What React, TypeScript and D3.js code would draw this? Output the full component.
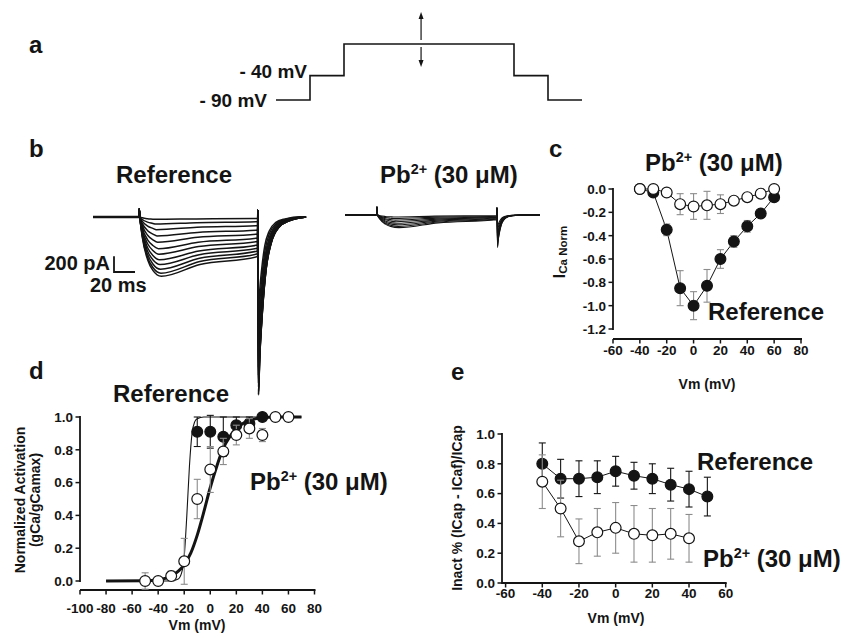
import React from 'react';
import * as d3 from 'd3';

const FONT = '"Liberation Sans", Arial, Helvetica, sans-serif';
const INK = '#141414';
const GREY = '#8c8c8c';

// a: voltage protocol
const protoTimes = [0, 30, 60, 210, 240, 270]; // ms
const protoLevels = [-90, -40, 25, -40, -90]; // mV
const protoArrowAt = 128;

// b: current traces, [start, step, tail, end] in ms, amplitudes in pA
const refTimes = [0, 44, 157, 198];
const refPeak = [30, 90, 160, 240, 320, 400, 470, 540, 600, 660, 710, 750];
const refLate = [20, 60, 110, 165, 215, 265, 310, 355, 395, 430, 465, 500];
const refTail = [1200, 1400, 1600, 1750, 1900, 2000, 2100, 2150, 2200, 2220, 2240, 2250];
const pbTimes = [0, 30.5, 145, 186];
const pbPeak = [25, 45, 65, 85, 105, 125, 145, 160];
const pbLate = [8, 15, 22, 30, 37, 45, 52, 60];
const pbTail = [150, 200, 250, 290, 330, 360, 390, 410];
const scaleBar = [200, 20]; // pA, ms

// c: normalised I-V
const ivVm = [-40, -30, -20, -10, 0, 10, 20, 30, 40, 50, 60];
const ivRef = [0, -0.03, -0.35, -0.85, -1.0, -0.83, -0.6, -0.45, -0.32, -0.21, -0.07];
const ivRefErr = [0, 0, 0.05, 0.15, 0.12, 0.14, 0.08, 0.05, 0.05, 0.02, 0.02];
const ivPb = [0, 0, -0.03, -0.13, -0.15, -0.14, -0.13, -0.1, -0.07, -0.04, 0];
const ivPbErr = [0, 0, 0, 0.09, 0.11, 0.12, 0.08, 0.02, 0.02, 0, 0];

// d: activation
const actRefVm = [-10, 0, 10, 20, 30, 40];
const actRef = [0.91, 0.91, 0.88, 0.95, 0.96, 1.0];
const actRefErr = [0.09, 0.1, 0.12, 0.05, 0.04, 0];
const actPbVm = [-50, -40, -30, -20, -10, 0, 10, 20, 30, 40, 50, 60];
const actPb = [0, 0, 0.03, 0.12, 0.5, 0.68, 0.79, 0.89, 0.93, 0.89, 1.0, 1.0];
const actPbErr = [0.05, 0.01, 0.03, 0.14, 0.12, 0.14, 0.08, 0.06, 0.06, 0.04, 0, 0];
const fitRefVm = [-80, -30, -25, -22, -20, -18, -16, -14, -12, -10, -5, 70];
const fitRef = [0, 0, 0.01, 0.05, 0.15, 0.4, 0.7, 0.9, 0.97, 0.99, 1, 1];
const fitPbVm = [-80, -50, -40, -30, -20, -15, -10, -5, 0, 5, 10, 15, 20, 30, 40, 50, 70];
const fitPb = [0, 0.002, 0.008, 0.03, 0.1, 0.17, 0.28, 0.42, 0.57, 0.7, 0.81, 0.88, 0.93, 0.98, 0.995, 1, 1];

// e: inactivation
const inRefVm = [-40, -30, -20, -10, 0, 10, 20, 30, 40, 50];
const inRef = [0.8, 0.7, 0.7, 0.71, 0.75, 0.72, 0.7, 0.66, 0.63, 0.58];
const inRefErr = [0.14, 0.13, 0.12, 0.11, 0.1, 0.09, 0.1, 0.11, 0.12, 0.13];
const inPbVm = [-40, -30, -20, -10, 0, 10, 20, 30, 40];
const inPb = [0.68, 0.5, 0.28, 0.34, 0.37, 0.33, 0.32, 0.33, 0.3];
const inPbErr = [0.18, 0.19, 0.15, 0.16, 0.17, 0.19, 0.18, 0.17, 0.16];

type Sc = d3.ScaleLinear<number, number>;

// shape templates: activation (ms after step, fraction of peak), tail relaxation (ms, fraction left)
const rise = [[3, 0.35], [8, 0.72], [13, 0.9]];
const relax = [[0, 1], [1, 0.8], [3, 0.55], [6, 0.3], [10, 0.15], [16, 0.06], [25, 0.02], [38, 0]];

function tracePts(times: number[], peak: number, late: number, tail: number, maxPeak: number, slow: number) {
  const [t0, on, off, t1] = times;
  const tp = on + 15 + 6 * (peak / maxPeak);
  const pts: [number, number][] = [[t0, 0], [on - 0.6, 0], [on, 100], [on + 0.6, 0]];
  rise.forEach(([dt, f]) => pts.push([on + dt, -peak * f]));
  pts.push([tp, -peak], [tp + 0.4 * (off - tp), -(peak - 0.6 * (peak - late))], [off - 0.4, -late], [off, 90]);
  relax.forEach(([dt, f]) => pts.push([off + 0.5 + dt * slow, -tail * f]));
  if (pts[pts.length - 1][0] < t1) pts.push([t1, 0]);
  return pts;
}

const AxisX = ({ x, y, from, ticks, labelY }: { x: Sc; y: number; from?: number; ticks: number[]; labelY: number }) => (
  <g>
    <line x1={from ?? x(ticks[0])} x2={x(ticks[ticks.length - 1]) + 1} y1={y} y2={y} stroke={INK} strokeWidth={1.8} />
    {ticks.map(t => <line key={t} x1={x(t)} x2={x(t)} y1={y} y2={y + 4.5} stroke={INK} strokeWidth={1.5} />)}
    {ticks.map(t => <text key={'l' + t} x={x(t)} y={labelY} textAnchor="middle" fontSize={13.5}>{String(t)}</text>)}
  </g>
);

const AxisY = ({ y, x, ticks, labelX }: { y: Sc; x: number; ticks: number[]; labelX: number }) => (
  <g>
    <line x1={x} x2={x} y1={y(ticks[0]) + 1} y2={y(ticks[ticks.length - 1]) - 1} stroke={INK} strokeWidth={1.8} />
    {ticks.map(t => <line key={t} x1={x - 4.5} x2={x} y1={y(t)} y2={y(t)} stroke={INK} strokeWidth={1.5} />)}
    {ticks.map(t => <text key={'l' + t} x={labelX} y={y(t)} dy="0.36em" textAnchor="end" fontSize={13.5}>{t.toFixed(1)}</text>)}
  </g>
);

const Series = ({ x, y, vm, v, err, filled, joined, errColor }: {
  x: Sc; y: Sc; vm: number[]; v: number[]; err: number[]; filled: boolean; joined: boolean; errColor: string;
}) => {
  const line = d3.line<number>().x((_, i) => x(vm[i])).y(d => y(d));
  return (
    <g>
      {joined && <path d={line(v) || ''} fill="none" stroke={INK} strokeWidth={1} />}
      {v.map((d, i) => err[i] > 0 && (
        <g key={'e' + i} stroke={errColor} strokeWidth={1.1}>
          <line x1={x(vm[i])} x2={x(vm[i])} y1={y(d - err[i])} y2={y(d + err[i])} />
          <line x1={x(vm[i]) - 3.5} x2={x(vm[i]) + 3.5} y1={y(d - err[i])} y2={y(d - err[i])} />
          <line x1={x(vm[i]) - 3.5} x2={x(vm[i]) + 3.5} y1={y(d + err[i])} y2={y(d + err[i])} />
        </g>
      ))}
      {v.map((d, i) => (
        <circle key={i} cx={x(vm[i])} cy={y(d)} r={5.4} fill={filled ? INK : '#fff'} stroke={INK} strokeWidth={1.2} />
      ))}
    </g>
  );
};

const PbLabel = ({ x, y, size = 24 }: { x: number; y: number; size?: number }) => (
  <text x={x} y={y} fontSize={size}>
    Pb<tspan fontSize={size * 0.6} dy={-size * 0.38}>2+</tspan><tspan dy={size * 0.38}> (30 μM)</tspan>
  </text>
);

const App = () => {
  // a
  const xa = d3.scaleLinear().domain([0, 270]).range([276, 582]);
  const ya = d3.scaleLinear().domain([-90, 25]).range([100, 44]);
  const protoPts: [number, number][] = protoLevels.map((l, i) => [protoTimes[i], l]);
  protoPts.push([protoTimes[protoTimes.length - 1], protoLevels[protoLevels.length - 1]]);
  const protoPath = d3.line<[number, number]>().x(d => xa(d[0])).y(d => ya(d[1])).curve(d3.curveStepAfter)(protoPts) || '';
  const ax = xa(protoArrowAt);

  // b
  const xRef = d3.scaleLinear().domain([0, 198]).range([93, 301]);
  const yRef = d3.scaleLinear().domain([-2250, 0]).range([395, 217]);
  const xPb = d3.scaleLinear().domain([0, 186]).range([345, 540]);
  const yPb = d3.scaleLinear().domain([-2250, 0]).range([393, 215]);
  const refLine = d3.line<[number, number]>().x(d => xRef(d[0])).y(d => yRef(d[1])).curve(d3.curveMonotoneX);
  const pbLine = d3.line<[number, number]>().x(d => xPb(d[0])).y(d => yPb(d[1])).curve(d3.curveMonotoneX);
  const refMax = d3.max(refPeak) || 1;
  const pbMax = d3.max(pbPeak) || 1;
  const refTailMax = d3.max(refTail) || 1;
  const sbX = 114, sbY = 272;
  const sbH = yRef(-scaleBar[0]) - yRef(0);
  const sbW = xRef(scaleBar[1]) - xRef(0);

  // c
  const xC = d3.scaleLinear().domain([-60, 80]).range([613, 801]);
  const yC = d3.scaleLinear().domain([-1.2, 0]).range([329, 189]);
  // d
  const xD = d3.scaleLinear().domain([-100, 80]).range([80, 314.5]);
  const yD = d3.scaleLinear().domain([0, 1]).range([581, 417]);
  const fitLine = (vm: number[]) => d3.line<number>().x((_, i) => xD(vm[i])).y(d => yD(d)).curve(d3.curveMonotoneX);
  // e
  const xE = d3.scaleLinear().domain([-60, 60]).range([505.6, 725.7]);
  const yE = d3.scaleLinear().domain([0, 1]).range([583, 434]);

  return (
    <svg width={845} height={638} style={{ position: 'absolute', left: 0, top: 0, background: '#fff' }}
      fontFamily={FONT} fontWeight="bold" fill={INK}>
      {/* panel letters */}
      <text x={29} y={53} fontSize={24}>a</text>
      <text x={29} y={157} fontSize={24}>b</text>
      <text x={549} y={157} fontSize={24}>c</text>
      <text x={29} y={379} fontSize={24}>d</text>
      <text x={451} y={380} fontSize={24}>e</text>

      {/* a */}
      <path d={protoPath} fill="none" stroke={INK} strokeWidth={1.6} />
      <g stroke={INK} strokeWidth={1.2}>
        <line x1={ax} x2={ax} y1={40} y2={18} />
        <line x1={ax} x2={ax} y1={47} y2={61} />
      </g>
      <polygon points={`${ax - 2.5},19 ${ax + 2.5},19 ${ax},12`} fill={INK} />
      <polygon points={`${ax - 2.5},60 ${ax + 2.5},60 ${ax},67`} fill={INK} />
      <text x={307} y={78} fontSize={19} textAnchor="end">- 40 mV</text>
      <text x={267} y={107} fontSize={19} textAnchor="end">- 90 mV</text>

      {/* b */}
      <text x={116} y={183} fontSize={24}>Reference</text>
      <PbLabel x={380} y={183} />
      <g fill="none" stroke={INK} strokeWidth={1.5}>
        <line x1={xRef(refTimes[0])} x2={xRef(refTimes[1])} y1={yRef(0)} y2={yRef(0)} strokeWidth={2.6} />
        {refPeak.map((p, i) => (
          <path key={'r' + i} d={refLine(tracePts(refTimes, p, refLate[i], refTail[i], refMax, 0.8 + 0.4 * refTail[i] / refTailMax)) || ''} />
        ))}
        {pbPeak.map((p, i) => (
          <path key={'p' + i} d={pbLine(tracePts(pbTimes, p, pbLate[i], pbTail[i], pbMax, 0.6)) || ''} strokeWidth={1.1} />
        ))}
        <path d={`M${sbX},${sbY - sbH}V${sbY}H${sbX + sbW}`} strokeWidth={1.8} />
      </g>
      <text x={110} y={270} fontSize={20} textAnchor="end">200 pA</text>
      <text x={90} y={292} fontSize={20}>20 ms</text>

      {/* c */}
      <PbLabel x={645} y={171} />
      <AxisY y={yC} x={613} ticks={yC.ticks(6)} labelX={606} />
      <AxisX x={xC} y={339} ticks={xC.ticks(7)} labelY={355} />
      <Series x={xC} y={yC} vm={ivVm} v={ivRef} err={ivRefErr} filled joined errColor={GREY} />
      <Series x={xC} y={yC} vm={ivVm} v={ivPb} err={ivPbErr} filled={false} joined errColor={GREY} />
      <text x={708} y={320} fontSize={24}>Reference</text>
      <text transform="translate(565,252) rotate(-90)" textAnchor="middle" fontSize={16}>
        I<tspan fontSize={11.5} dy={2}>Ca Norm</tspan>
      </text>
      <text x={707} y={389} fontSize={14} textAnchor="middle">Vm (mV)</text>

      {/* d */}
      <text x={113} y={402} fontSize={24}>Reference</text>
      <AxisY y={yD} x={80} ticks={yD.ticks(5)} labelX={73} />
      <AxisX x={xD} y={590} ticks={xD.ticks(9)} labelY={613} />
      <path d={fitLine(fitRefVm)(fitRef) || ''} fill="none" stroke={INK} strokeWidth={1.1} />
      <path d={fitLine(fitPbVm)(fitPb) || ''} fill="none" stroke={INK} strokeWidth={3} />
      <Series x={xD} y={yD} vm={actRefVm} v={actRef} err={actRefErr} filled joined={false} errColor={INK} />
      <Series x={xD} y={yD} vm={actPbVm} v={actPb} err={actPbErr} filled={false} joined={false} errColor={GREY} />
      <PbLabel x={250} y={490} />
      <text transform="translate(25,500) rotate(-90)" textAnchor="middle" fontSize={14}>Normalized Activation</text>
      <text transform="translate(40,500) rotate(-90)" textAnchor="middle" fontSize={14}>(gCa/gCamax)</text>
      <text x={197} y={630} fontSize={14} textAnchor="middle">Vm (mV)</text>

      {/* e */}
      <AxisY y={yE} x={502} ticks={yE.ticks(5)} labelX={495} />
      <AxisX x={xE} y={583} from={502} ticks={xE.ticks(6)} labelY={598} />
      <Series x={xE} y={yE} vm={inRefVm} v={inRef} err={inRefErr} filled joined errColor={INK} />
      <Series x={xE} y={yE} vm={inPbVm} v={inPb} err={inPbErr} filled={false} joined errColor={GREY} />
      <text x={697} y={470} fontSize={24}>Reference</text>
      <PbLabel x={703} y={567} />
      <text transform="translate(462,508) rotate(-90)" textAnchor="middle" fontSize={14}>Inact % (ICap - ICaf)/ICap</text>
      <text x={616} y={623} fontSize={14} textAnchor="middle">Vm (mV)</text>
    </svg>
  );
};

export default App;
